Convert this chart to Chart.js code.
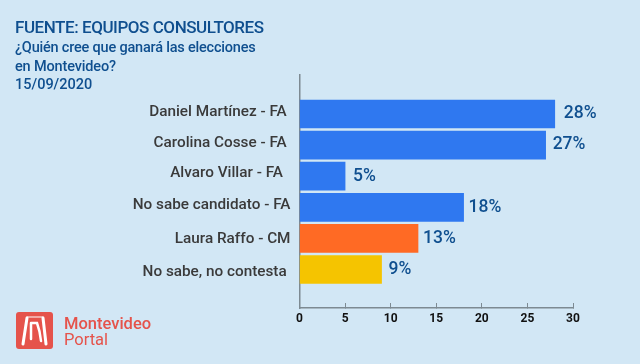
<!DOCTYPE html>
<html><head><meta charset="utf-8">
<style>html,body{margin:0;padding:0;background:#d2e7f5}canvas{display:block}</style>
<script src="https://cdn.jsdelivr.net/npm/chart.js@4"></script></head>
<body><canvas id="c" width="640" height="364"></canvas>
<script>
const categories = ["Daniel Martínez - FA","Carolina Cosse - FA","Alvaro Villar - FA","No sabe candidato - FA","Laura Raffo - CM","No sabe, no contesta"];
const values = [28,27,5,18,13,9];
const barColors = ["#2f78f0","#2f78f0","#2f78f0","#2f78f0","#ff6a24","#f5c400"];
const valueLabels = ["28%","27%","5%","18%","13%","9%"];
const labelGaps = [9,7,8,5,5,7];
const labelTrail = [1,1,2,0,0,1];
const tickNudge = [-0.07,-0.07,-0.1,-0.07,0.03,0.1];
const xTicks = [0,5,10,15,20,25,30];
const titleLines = [
 ["FUENTE: EQUIPOS CONSULTORES",15,33,"500 17px Roboto","#0f4f8f","-0.45px"],
 ["¿Quién cree que ganará las elecciones",15,52,"500 14.5px Roboto","#0f4f8f","-0.2px"],
 ["en Montevideo?",15,70.5,"500 14.5px Roboto","#0f4f8f","-0.15px"],
 ["15/09/2020",15,89,"500 14.5px Roboto","#0f4f8f","0px"]
];
const overlay = {
 id:"overlay",
 afterDatasetsDraw(chart){
  const ctx=chart.ctx, meta=chart.getDatasetMeta(0);
  ctx.save();
  ctx.textBaseline="alphabetic";ctx.textAlign="left";
  titleLines.forEach(t=>{ctx.font=t[3];ctx.fillStyle=t[4];ctx.letterSpacing=t[5];ctx.fillText(t[0],t[1],t[2]);});
  ctx.letterSpacing="0px";
  ctx.font="500 17.5px Roboto";ctx.fillStyle="#0f4f8f";ctx.textBaseline="middle";
  meta.data.forEach((b,i)=>ctx.fillText(valueLabels[i],b.x+labelGaps[i],b.y));
  ctx.textBaseline="alphabetic";
  // logo
  ctx.fillStyle="#e5534b";ctx.beginPath();ctx.roundRect(16,312,37,37,3);ctx.fill();
  ctx.strokeStyle="#fff";ctx.lineWidth=3;ctx.lineCap="round";
  ctx.beginPath();ctx.moveTo(23,344);ctx.lineTo(27,318);ctx.moveTo(46,344);ctx.lineTo(43,318);ctx.stroke();
  ctx.lineWidth=1.2;ctx.beginPath();ctx.moveTo(27,317);ctx.lineTo(43,317);ctx.stroke();
  ctx.lineWidth=2.5;ctx.beginPath();ctx.moveTo(31,323);ctx.lineTo(31,339);ctx.moveTo(31,323);ctx.lineTo(37,323);ctx.quadraticCurveTo(40,331,41,341);ctx.stroke();
  ctx.fillStyle="#e5534b";ctx.font="500 16.5px Roboto";ctx.fillText("Montevideo",64,329);
  ctx.font="400 16.5px Roboto";ctx.fillText("Portal",64,345);
  ctx.restore();
 }
};
new Chart(document.getElementById("c"),{
 type:"bar",
 data:{datasets:[{data:values.map((v,i)=>({x:v,y:i})),backgroundColor:barColors,barThickness:28}]},
 plugins:[overlay,{id:"bg",beforeDraw(ch){ch.ctx.save();ch.ctx.fillStyle="#d2e7f5";ch.ctx.fillRect(0,0,640,364);ch.ctx.restore();}}],
 options:{
  indexAxis:"y",responsive:false,animation:false,
  layout:{padding:{top:75,right:67,bottom:36,left:0}},
  plugins:{legend:{display:false},tooltip:{enabled:false},title:{display:false}},
  scales:{
   x:{type:"linear",min:0,max:30,position:"bottom",
    afterBuildTicks(s){s.ticks=xTicks.map(v=>({value:v}));},
    afterFit(s){s.height=20;},
    border:{color:"#7d8a92",width:1.5},
    grid:{drawOnChartArea:false,drawTicks:true,tickLength:-5,color:"#7d8a92",lineWidth:1},
    ticks:{padding:9,color:"#111",font:{family:"Roboto",size:12,weight:"700"},maxRotation:0}},
   y:{type:"linear",reverse:true,offset:false,position:"left",
    afterBuildTicks(s){s.min=-1.254;s.max=6.238;s.ticks=categories.map((c,i)=>({value:i+tickNudge[i]}));},
    afterFit(s){s.width=299.5;},
    border:{color:"#7d8a92",width:1.5},
    grid:{display:false},
    ticks:{autoSkip:false,padding:1,color:"#3a3a3a",font:{family:"Roboto",size:15.3,weight:"500"},
     callback:(v,i)=>categories[i]+" ".repeat(labelTrail[i])}}
  }
 }
});
</script></body></html>
